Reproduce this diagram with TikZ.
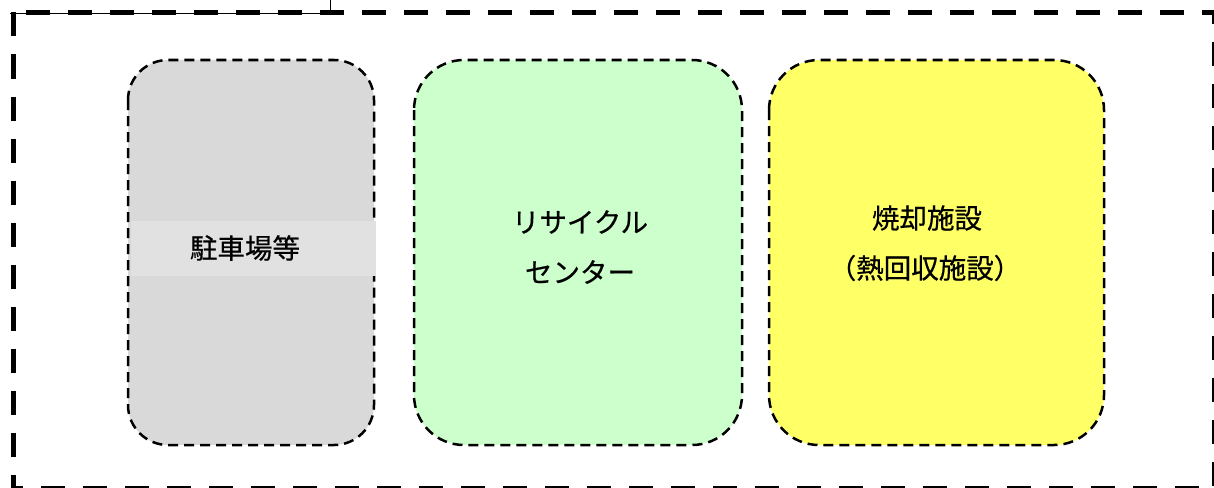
\documentclass[tikz,border=0pt]{standalone}
\usepackage{fontspec}
\newfontfamily\jp[FakeBold=0.6]{Noto Sans CJK JP}
\definecolor{grayfill}{HTML}{D9D9D9}
\definecolor{bandfill}{HTML}{E1E1E1}
\definecolor{greenfill}{HTML}{CCFFCC}
\definecolor{yellowfill}{HTML}{FFFF66}
\tikzset{
  area/.style={draw=black, line width=2.5pt, dash pattern=on 10pt off 6pt, rounded corners=#1, inner sep=0pt},
  lbl/.style={font=\jp\fontsize{27.5}{32}\selectfont, inner sep=0pt, anchor=center},
  outer/.style={draw=black, line width=5pt, dash pattern=on 24pt off 18pt},
}
\begin{document}
\begin{tikzpicture}[x=1pt, y=-1pt]
\useasboundingbox (0,0) rectangle (1214,487);
% top-left label frame (cut off)
\draw[line width=1pt] (10,14) -- (330,14) -- (330,-10);
% outer dashed frame
\draw[outer] (13,12.5) rectangle (1214.5,488.5);
% areas
\draw[area=40pt, fill=grayfill] (128,60) rectangle (374,445);
\fill[bandfill] (131,221) rectangle (375.5,276);
\draw[area=50pt, fill=greenfill] (414,60) rectangle (742,445);
\draw[area=50pt, fill=yellowfill] (769,60) rectangle (1104,445);
% labels
\node[lbl] (parking) at (245,248) {駐車場等};
\node[lbl] (recycle1) at (580,222) {リサイクル};
\node[lbl] (recycle2) at (580,272) {センター};
\node[lbl] (incin1) at (927,218) {焼却施設};
\node[lbl] (incin2) at (925,268) {（熱回収施設）};
\end{tikzpicture}
\end{document}
